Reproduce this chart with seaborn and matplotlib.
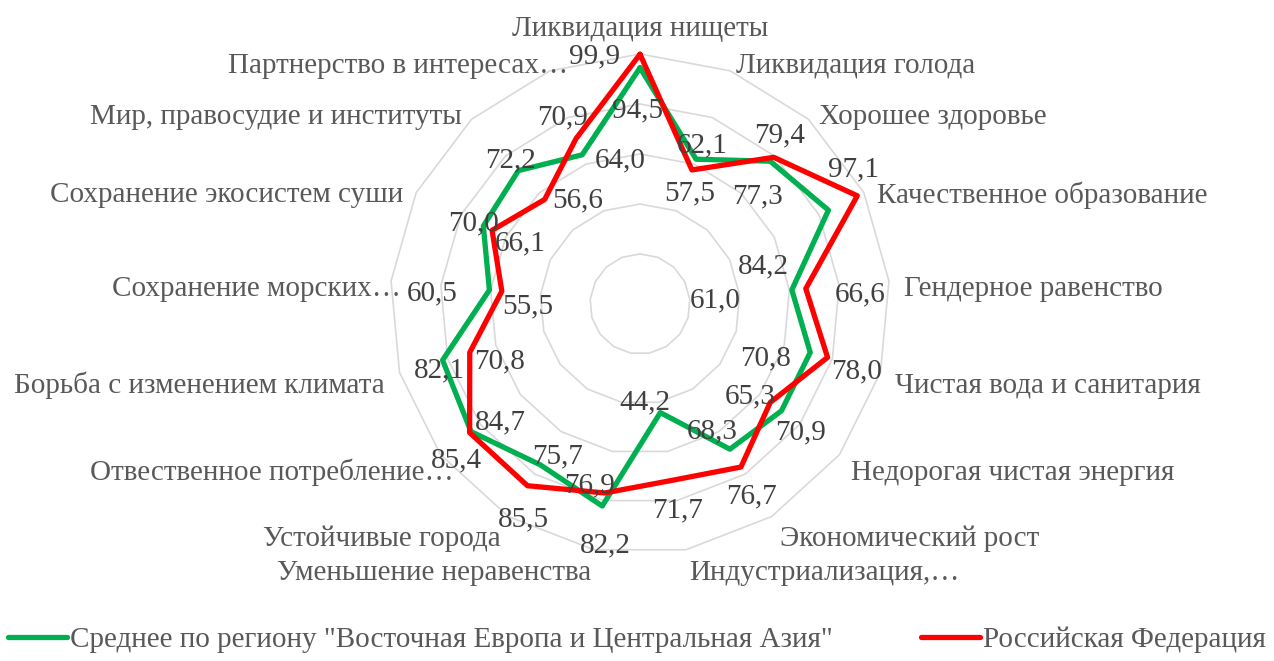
import numpy as np
import pandas as pd
import matplotlib
matplotlib.use("Agg")
import matplotlib.pyplot as plt
import seaborn as sns

# --- data ---
categories = [
    "Ликвидация нищеты", "Ликвидация голода", "Хорошее здоровье",
    "Качественное образование", "Гендерное равенство", "Чистая вода и санитария",
    "Недорогая чистая энергия", "Экономический рост", "Индустриализация,…",
    "Уменьшение неравенства", "Устойчивые города", "Отвественное потребление…",
    "Борьба с изменением климата", "Сохранение морских…", "Сохранение экосистем суши",
    "Мир, правосудие и институты", "Партнерство в интересах…",
]
region_name = 'Среднее по региону "Восточная Европа и Центральная Азия"'
russia_name = "Российская Федерация"
region_vals = [94.5, 62.1, 77.3, 84.2, 61.0, 70.8, 70.9, 68.3, 44.2,
               82.2, 75.7, 84.7, 82.1, 60.5, 70.0, 72.2, 64.0]
russia_vals = [99.9, 57.5, 79.4, 97.1, 66.6, 78.0, 65.3, 76.7, 71.7,
               76.9, 85.5, 85.4, 70.8, 55.5, 66.1, 56.6, 70.9]
grid_levels = [20, 40, 60, 80, 100]

# label offsets in pixels (dx, dy up), as placed in the original
region_off = [(-2, -40), (6, 17), (-13, -32), (-65, -53), (-77, -7), (-45, -3),
              (19, -19), (-18, 21), (-15, 13), (3, -36), (17, 12), (29, 12),
              (-3, -7), (-57, 0), (-10, 6), (-8, 13), (38, -3)]
russia_off = [(-45, 1), (-2, -20), (6, 25), (-4, 29), (54, -3), (29, -11),
              (-20, 9), (11, -26), (5, -27), (-15, 11), (-4, -31), (-13, -25),
              (30, -6), (26, -12), (28, -10), (33, 2), (-13, 24)]
# small shifts of the category labels (truncated ones sit further right)
cat_shift_x = [0, 0, 0, 0, 0, 0, 0, 0, 0, 0, 0, 25, 0, 25, 0, 0, 24]

GREEN = "#00B050"
RED = "#FF0000"
FS = 21

sns.set_style("white")
plt.rcParams["font.family"] = ["Liberation Serif", "DejaVu Serif"]

n = len(categories)
theta = np.linspace(0, 2 * np.pi, n, endpoint=False)
theta_c = np.append(theta, 2 * np.pi)

df = pd.concat([
    pd.DataFrame({"theta": theta_c, "value": region_vals + region_vals[:1], "series": region_name}),
    pd.DataFrame({"theta": theta_c, "value": russia_vals + russia_vals[:1], "series": russia_name}),
])

W, H = 1274, 661
R = 250
cx, cy = 640, 304
fig = plt.figure(figsize=(W / 100, H / 100), dpi=100)
ax = fig.add_axes([(cx - R) / W, (H - cy - R) / H, 2 * R / W, 2 * R / H], projection="polar")
ax.set_theta_zero_location("N")
ax.set_theta_direction(-1)
ax.set_ylim(0, 100)
ax.set_axis_off()

for lv in grid_levels:
    ax.plot(theta_c, [lv] * (n + 1), color="#D9D9D9", lw=1.2, zorder=1, clip_on=False)

sns.lineplot(data=df, x="theta", y="value", hue="series", sort=False, estimator=None,
             palette={region_name: GREEN, russia_name: RED}, linewidth=3.8,
             ax=ax, zorder=3, clip_on=False)

for vals, offs in [(region_vals, region_off), (russia_vals, russia_off)]:
    for t, v, (dx, dy) in zip(theta, vals, offs):
        ax.annotate(f"{v:.1f}".replace(".", ","), xy=(t, v), xytext=(dx, dy - 3),
                    textcoords="offset pixels", ha="center", va="center",
                    fontsize=FS, color="#404040", zorder=5, annotation_clip=False)

for t, lab, sx in zip(theta, categories, cat_shift_x):
    s = np.sin(t)
    if abs(s) < 0.05:
        ha, r, sy = "center", 111, -2
    else:
        ha, r, sy = ("left" if s > 0 else "right"), 106, -9
    ax.annotate(lab, xy=(t, r), xytext=(sx, sy), textcoords="offset pixels",
                ha=ha, va="center", fontsize=FS, color="#595959", annotation_clip=False)

handles, labels = ax.get_legend_handles_labels()
ax.get_legend().remove()
fig.legend(handles, labels, loc="lower center", bbox_to_anchor=(0.5, -0.028), ncol=2,
           frameon=False, handlelength=2.0, handletextpad=0.1, columnspacing=3.05,
           prop={"size": FS}, labelcolor="#595959")

fig.savefig("out.png", dpi=100)
